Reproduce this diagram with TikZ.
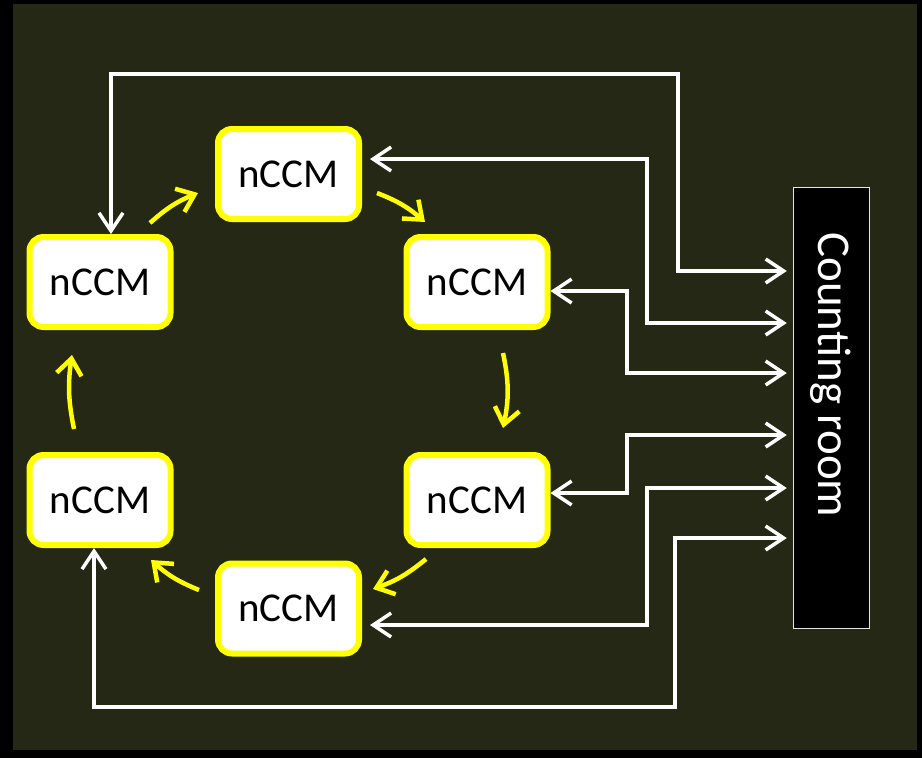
\documentclass[tikz,border=0pt]{standalone}
\usepackage{fontspec}
\setmainfont{Carlito}
\usetikzlibrary{arrows.meta,calc}
\definecolor{bgolive}{RGB}{36,40,21}
\definecolor{ylw}{RGB}{255,255,0}
\begin{document}
\begin{tikzpicture}[x=1pt,y=-1pt,
  box/.style={draw=ylw, line width=6pt, fill=white, rounded corners=14pt,
    minimum width=141pt, minimum height=90pt, inner sep=0pt,
    font=\fontsize{41}{49}\selectfont, text=black},
  wl/.style={draw=white, line width=3.5pt,
    {Straight Barb[length=18pt,width=24pt]}-{Straight Barb[length=18pt,width=24pt]}},
  yl/.style={draw=ylw, line width=4.5pt, -{Straight Barb[length=16pt,width=25pt]}},
  crbox/.style={draw=white!90!black, line width=1.5pt, fill=black,
    minimum width=76pt, minimum height=441pt, inner sep=0pt},
  crtext/.style={text=white, font=\fontsize{47}{56}\selectfont, rotate=-90, anchor=base, inner sep=0pt}]
\useasboundingbox (0,0) rectangle (922,758);
\fill[black] (0,0) rectangle (922,758);
\fill[bgolive] (13,4) rectangle (917,750);

% nodes
\node[box] (top) at (288.5,174) {nCCM};
\node[box] (ul) at (100,282) {nCCM};
\node[box] (ur) at (477,282) {nCCM};
\node[box] (ll) at (100,500) {nCCM};
\node[box] (lr) at (477,500) {nCCM};
\node[box] (bot) at (288.5,608.5) {nCCM};
\node[crbox] (cr) at (831.5,408) {};
\node[crtext] (crt) at (818,375) {Counting room};

% white connectors to the counting room
\draw[wl, shorten >=6pt] (ul.north -| 111,0) |- (678,74) |- (cr.west |- 0,271);
\draw[wl, shorten <=8pt, shorten >=6pt] (top.east |- 0,159) -| (647,323) -- (cr.west |- 0,323);
\draw[wl, shorten >=6pt] (ur.east |- 0,291) -| (627,373) -- (cr.west |- 0,373);
\draw[wl, shorten >=6pt] (lr.east |- 0,493) -| (627,435) -- (cr.west |- 0,435);
\draw[wl, shorten <=8pt, shorten >=6pt] (bot.east |- 0,625) -| (647,488) -- (cr.west |- 0,488);
\draw[wl, shorten >=6pt] (ll.south -| 94,0) |- (675,707) |- (cr.west |- 0,538);

% yellow ring arrows
\coordinate (y1s) at (150,223); \coordinate (y1e) at (198,193);
\coordinate (y2s) at (377,193); \coordinate (y2e) at (425,222);
\coordinate (y3s) at (503,353); \coordinate (y3e) at (503,428);
\coordinate (y4s) at (426,559); \coordinate (y4e) at (373,589);
\coordinate (y5s) at (199,590); \coordinate (y5e) at (151,560);
\coordinate (y6s) at (74,429);  \coordinate (y6e) at (72,355);
\draw[yl] (y1s) to[bend left=10] (y1e);
\draw[yl] (y2s) to[bend left=10] (y2e);
\draw[yl] (y3s) to[bend left=12] (y3e);
\draw[yl] (y4s) to[bend left=10] (y4e);
\draw[yl] (y5s) to[bend left=10] (y5e);
\draw[yl] (y6s) to[bend left=10] (y6e);
\end{tikzpicture}
\end{document}
